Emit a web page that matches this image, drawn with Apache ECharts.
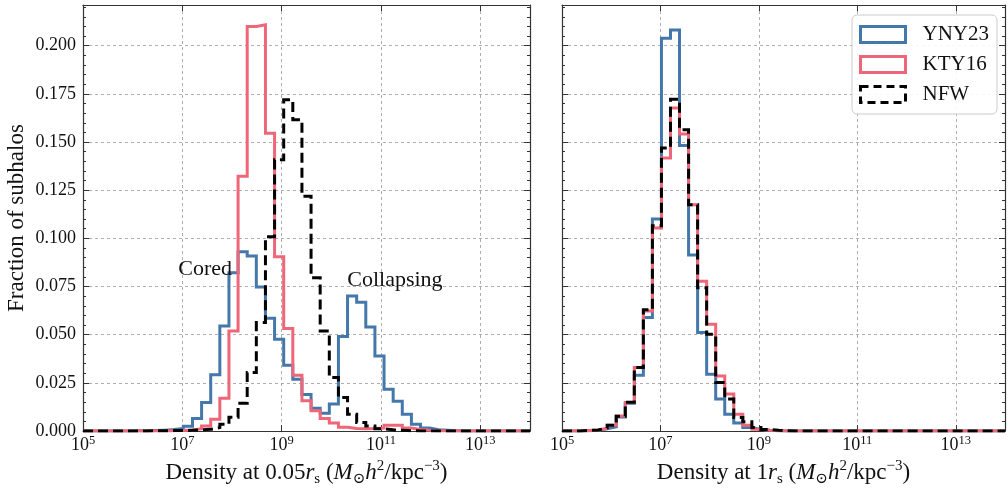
<!DOCTYPE html>
<html><head><meta charset="utf-8">
<script src="https://cdn.jsdelivr.net/npm/echarts@6/dist/echarts.min.js"></script>
<style>html,body{margin:0;padding:0;background:#fff}#c{width:1008px;height:492px}</style>
</head><body><div id="c"></div>
<script>
// ---- bins (log10 of density) ----
const logMin = 5, logMax = 14, nBins = 49;
const xTickExponents = [5, 7, 9, 11, 13];
const yMax = 0.2211, yStep = 0.025;
const seriesNames = ['YNY23', 'KTY16', 'NFW'];
const colors = ['#4477AA', '#EE6677', '#000000'];

// ---- values per bin: density at 0.05 r_s ----
const inner_YNY23 = [0,0,0,0.0001,0.0001,0.0002,0.0002,0.0003,0.0005,0.0008,0.0013,0.0025,0.0065,0.0149,0.0292,0.0545,0.0822,0.0930,0.0908,0.0748,0.0585,0.0476,0.0342,0.0269,0.0190,0.0118,0.0092,0.0140,0.0491,0.0701,0.0668,0.0540,0.0390,0.0217,0.0155,0.0088,0.0036,0.0016,0.0007,0.0004,0.0002,0.0001,0,0,0,0,0,0,0];
const inner_KTY16 = [0,0,0,0,0,0,0.0001,0.0001,0.0001,0.0002,0.0003,0.0006,0.0012,0.0027,0.0062,0.0170,0.0520,0.1322,0.2100,0.2108,0.1546,0.0905,0.0532,0.0290,0.0157,0.0105,0.0065,0.0042,0.0020,0.0013,0.0012,0.0013,0.0016,0.0030,0.0030,0.0016,0.0008,0.0004,0.0002,0.0001,0.0001,0,0,0,0,0,0,0,0];
const inner_NFW   = [0,0,0,0,0.0001,0.0001,0.0001,0.0002,0.0002,0.0003,0.0003,0.0004,0.0006,0.0009,0.0018,0.0035,0.0072,0.0145,0.0304,0.0563,0.1008,0.1408,0.1719,0.1615,0.1218,0.0796,0.0519,0.0278,0.0174,0.0088,0.0045,0.0026,0.0012,0.0007,0.0004,0.0002,0.0001,0,0,0,0,0,0,0,0,0,0,0,0];

// ---- values per bin: density at 1 r_s ----
const outer_YNY23 = [0,0.0001,0.0002,0.0005,0.0012,0.0022,0.0073,0.0145,0.0290,0.0590,0.1100,0.2038,0.2081,0.1482,0.0914,0.0511,0.0295,0.0166,0.0088,0.0042,0.0019,0.0009,0.0004,0.0002,0.0001,0,0,0,0,0,0,0,0,0,0,0,0,0,0,0,0,0,0,0,0,0,0,0,0];
const outer_KTY16 = [0,0.0001,0.0003,0.0006,0.0015,0.0030,0.0078,0.0148,0.0330,0.0623,0.1054,0.1417,0.1676,0.1541,0.1175,0.0778,0.0554,0.0286,0.0192,0.0088,0.0030,0.0010,0.0005,0.0002,0.0001,0,0,0,0,0,0,0,0,0,0,0,0,0,0,0,0,0,0,0,0,0,0,0,0];
const outer_NFW   = [0,0.0001,0.0003,0.0006,0.0016,0.0030,0.0077,0.0150,0.0330,0.0630,0.1065,0.1469,0.1722,0.1564,0.1175,0.0744,0.0502,0.0252,0.0166,0.0071,0.0048,0.0019,0.0008,0.0004,0.0002,0,0,0,0,0,0,0,0,0,0,0,0,0,0,0,0,0,0,0,0,0,0,0,0];

const annotations = [{text: 'Cored', x: 7.46, y: 0.0840}, {text: 'Collapsing', x: 11.28, y: 0.0782}];

// ---- build ----
const FONT = "'Liberation Serif', 'DejaVu Serif', serif";
const TXT = '#111';
const edges = [];
for (let k = 0; k <= nBins; k++) edges.push(logMin + (logMax - logMin) * k / nBins);
function stepPoints(vals) {
  const pts = [[edges[0], 0]];
  vals.forEach((v, k) => { pts.push([edges[k], v]); pts.push([edges[k + 1], v]); });
  pts.push([edges[nBins], 0]);
  return pts;
}
const spine = {show: true, onZero: false, lineStyle: {color: '#333', width: 1.2}};
const grid = {show: true, lineStyle: {color: '#9a9a9a', width: 0.8, type: [3, 3]}};
const supRich = {
  b: {fontFamily: FONT, fontSize: 18, lineHeight: 22, color: TXT},
  s: {fontFamily: FONT, fontSize: 12.5, lineHeight: 4, verticalAlign: 'top', color: TXT}
};
const NS = 23;
const nameRich = {
  n: {fontFamily: FONT, fontSize: NS, lineHeight: 28, color: TXT},
  i: {fontFamily: FONT, fontSize: NS, lineHeight: 28, fontStyle: 'italic', color: TXT},
  sub: {fontFamily: FONT, fontSize: 15, lineHeight: 13, verticalAlign: 'bottom', color: TXT},
  sup: {fontFamily: FONT, fontSize: 15, lineHeight: 8, verticalAlign: 'top', color: TXT}
};
function xAx(g, title) {
  return [{
    gridIndex: g, type: 'value', min: logMin, max: logMax, interval: 2, position: 'bottom',
    axisLine: spine, axisTick: {inside: true, length: 6, lineStyle: {color: '#333'}},
    axisLabel: {margin: 3, formatter: v => xTickExponents.includes(v) ? '{b|10}{s|' + v + '}' : '', rich: supRich},
    splitLine: grid,
    name: title, nameLocation: 'middle', nameGap: 24,
    nameTextStyle: {fontFamily: FONT, fontSize: NS, color: TXT, rich: nameRich}
  }, {
    gridIndex: g, type: 'value', min: logMin, max: logMax, interval: 2, position: 'top',
    axisLine: spine, axisTick: {inside: true, length: 6, lineStyle: {color: '#333'}},
    axisLabel: {show: false}, splitLine: {show: false}
  }];
}
function yAx(g, pos, labels, withGrid) {
  const a = {
    gridIndex: g, type: 'value', min: 0, max: yMax, interval: yStep, position: pos,
    axisLine: spine,
    axisTick: {inside: true, length: 6, lineStyle: {color: '#333'}},
    minorTick: {show: true, splitNumber: 5, length: 3, lineStyle: {color: '#333'}},
    axisLabel: {show: labels, showMaxLabel: false, margin: 7, fontFamily: FONT, fontSize: 18, color: TXT,
      formatter: v => v.toFixed(3)},
    splitLine: withGrid ? grid : {show: false}
  };
  if (labels) {
    a.name = 'Fraction of subhalos'; a.nameLocation = 'middle'; a.nameGap = 55;
    a.nameTextStyle = {fontFamily: FONT, fontSize: NS, color: TXT};
  }
  return a;
}
const innerSets = [inner_YNY23, inner_KTY16, inner_NFW];
const outerSets = [outer_YNY23, outer_KTY16, outer_NFW];
const series = [];
[innerSets, outerSets].forEach((sets, g) => {
  sets.forEach((vals, i) => {
    series.push({
      name: seriesNames[i], type: 'line', xAxisIndex: g * 2, yAxisIndex: g * 2,
      data: stepPoints(vals), showSymbol: false, symbol: 'none', clip: true, z: 3 + i,
      lineStyle: {color: colors[i], width: 3, type: i === 2 ? [10, 5] : 'solid', join: 'miter'},
      itemStyle: {color: colors[i]}
    });
  });
});
series.push({
  type: 'scatter', xAxisIndex: 0, yAxisIndex: 0, symbolSize: 1,
  itemStyle: {color: 'rgba(0,0,0,0)', opacity: 1},
  data: annotations.map(a => ({value: [a.x, a.y], label: {formatter: a.text}})),
  label: {show: true, position: 'inside', fontFamily: FONT, fontSize: 22, color: TXT, opacity: 1,
    textBorderWidth: 0},
  z: 10, silent: true
});
const option = {
  animation: false,
  backgroundColor: '#fff',
  grid: [
    {left: 83, top: 5, width: 447, height: 427, containLabel: false},
    {left: 562, top: 5, width: 447, height: 427, containLabel: false}
  ],
  xAxis: [
    ...xAx(0, 'Density at 0.05{i|r}{sub|s} ({i|M}{sub|⊙}{i|h}{sup|2}/kpc{sup|−3})'),
    ...xAx(1, 'Density at 1{i|r}{sub|s} ({i|M}{sub|⊙}{i|h}{sup|2}/kpc{sup|−3})')
  ],
  yAxis: [yAx(0, 'left', true, true), yAx(0, 'right', false, false), yAx(1, 'left', false, true), yAx(1, 'right', false, false)],
  legend: {
    left: 852, top: 15, orient: 'vertical',
    data: seriesNames.map((n, i) => ({name: n, icon: 'rect',
      itemStyle: {color: 'rgba(255,255,255,0)', borderColor: colors[i], borderWidth: 3, borderType: i === 2 ? [8, 5] : 'solid'}})),
    itemWidth: 45, itemHeight: 16, itemGap: 9,
    textStyle: {fontFamily: FONT, fontSize: 21, color: TXT, padding: [0, 2, 0, 12]},
    backgroundColor: 'rgba(255,255,255,0.9)', borderColor: '#cccccc', borderWidth: 1, borderRadius: 5,
    padding: [9, 8, 9, 7]
  },
  series: series
};
const chart = echarts.init(document.getElementById('c'), null, {renderer: 'canvas'});
chart.setOption(option);
</script></body></html>
